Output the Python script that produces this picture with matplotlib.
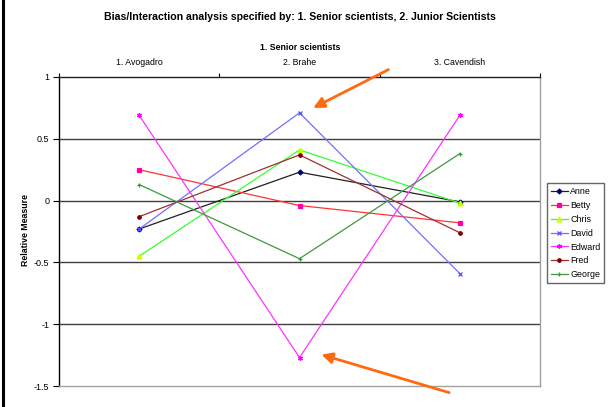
import matplotlib.pyplot as plt
from matplotlib.lines import Line2D

# ==========================
# Dados do gráfico
# ==========================
categories = ["1. Avogadro", "2. Brahe", "3. Cavendish"]

names = ["Anne", "Betty", "Chris", "David", "Edward", "Fred", "George"]
anne = [-0.23, 0.23, -0.01]
betty = [0.25, -0.04, -0.18]
chris = [-0.45, 0.41, -0.02]
david = [-0.23, 0.71, -0.59]
edward = [0.69, -1.27, 0.69]
fred = [-0.13, 0.37, -0.26]
george = [0.13, -0.47, 0.38]

series = [anne, betty, chris, david, edward, fred, george]
line_colors = ["#202020", "#FF3333", "#33FF33", "#7070FF", "#FF33FF", "#A03030", "#3C9A3C"]
marker_colors = ["#000080", "#FF00AA", "#CCFF00", "#5050FF", "#FF00FF", "#800000", "#339933"]
markers = ["D", "s", "^", "x", (6, 2, 0), "o", "+"]
marker_sizes = [2.5, 3.5, 3.5, 3.5, 3.5, 2.5, 3.5]

plt.rcParams["font.family"] = ["Liberation Sans", "DejaVu Sans"]

fig = plt.figure(figsize=(6.16, 4.07), dpi=100)
ax = fig.add_axes([59 / 616, 1 - 386 / 407, (540 - 59) / 616, (386 - 77) / 407])

x = list(range(len(categories)))
for name, vals, lc, mc, mk, ms in zip(names, series, line_colors, marker_colors, markers, marker_sizes):
    ax.plot(x, vals, color=lc, linewidth=0.9, marker=mk, markersize=ms,
            markerfacecolor=mc, markeredgecolor=mc, markeredgewidth=0.9, label=name)

ax.set_xlim(-0.5, 2.5)
ax.set_ylim(-1.5, 1)

# ==========================
# Eixos e grade
# ==========================
ax.set_yticks([1, 0.5, 0, -0.5, -1, -1.5])
ax.set_yticklabels(["1", "0.5", "0", "-0.5", "-1", "-1.5"])
ax.tick_params(axis="y", labelsize=6.5, length=4, width=0.8, direction="out", pad=3)
for yv in [0.5, 0, -0.5, -1]:
    ax.axhline(yv, color="#404040", linewidth=1, zorder=0)

ax.xaxis.tick_top()
ax.set_xticks([-0.5, 0.5, 1.5, 2.5])
ax.set_xticklabels([])
ax.set_xticks(x, minor=True)
ax.set_xticklabels(categories, minor=True)
ax.tick_params(axis="x", which="major", length=3, width=0.8, direction="out")
ax.tick_params(axis="x", which="minor", length=0, labelsize=6.3, pad=7)

ax.spines["left"].set_color("black")
ax.spines["top"].set_color("#202020")
ax.spines["right"].set_color("#A0A0A0")
ax.spines["bottom"].set_color("#A0A0A0")
for sp in ax.spines.values():
    sp.set_linewidth(1)

ax.set_ylabel("Relative Measure", fontsize=6.3, fontweight="bold")
ax.yaxis.set_label_coords((30 - 59) / 481, (386 - 230) / 309)

fig.text(300 / 616, 1 - 17 / 407, "Bias/Interaction analysis specified by: 1. Senior scientists, 2. Junior Scientists",
         ha="center", va="center", fontsize=7.6, fontweight="bold")
fig.text(300 / 616, 1 - 48 / 407, "1. Senior scientists", ha="center", va="center",
         fontsize=6.3, fontweight="bold")

# ==========================
# Setas de destaque
# ==========================
ax.annotate("", xy=(1.07, 0.74), xytext=(1.57, 1.07), annotation_clip=False,
            arrowprops=dict(arrowstyle="-|>", color="#FF6A10", lw=2, mutation_scale=16))
ax.annotate("", xy=(1.12, -1.24), xytext=(1.95, -1.56), annotation_clip=False,
            arrowprops=dict(arrowstyle="-|>", color="#FF6A10", lw=2, mutation_scale=16))

# ==========================
# Legenda
# ==========================
leg = fig.legend(loc="upper left", bbox_to_anchor=(547 / 616, 1 - 183 / 407), fontsize=6.4,
                 frameon=True, fancybox=False, edgecolor="#404040", handlelength=1.9,
                 handletextpad=0.25, labelspacing=0.55, borderpad=0.45, borderaxespad=0)
leg.get_frame().set_linewidth(1)

# borda esquerda
fig.add_artist(Line2D([3 / 616, 3 / 616], [0, 1], color="black", linewidth=2.2))

fig.savefig("out.png", dpi=100)
